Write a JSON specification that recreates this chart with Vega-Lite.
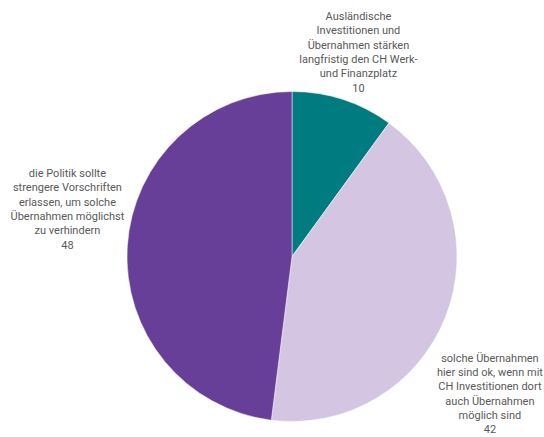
{
  "$schema": "https://vega.github.io/schema/vega-lite/v6.json",
  "autosize": {"type": "none"},
  "padding": 0,
  "width": 584,
  "height": 513,
  "background": "white",
  "data": {
    "values": [
      {"order": 1, "category": "Ausländische Investitionen und Übernahmen stärken langfristig den CH Werk- und Finanzplatz", "label": ["Ausländische", "Investitionen und", "Übernahmen stärken", "langfristig den CH Werk-", "und Finanzplatz", "10"], "value": 10},
      {"order": 2, "category": "solche Übernahmen hier sind ok, wenn mit CH Investitionen dort auch Übernahmen möglich sind", "label": ["solche Übernahmen", "hier sind ok, wenn mit", "CH Investitionen dort", "auch Übernahmen", "möglich sind", "42"], "value": 42},
      {"order": 3, "category": "die Politik sollte strengere Vorschriften erlassen, um solche Übernahmen zu verhindern", "label": ["die Politik sollte", "strengere Vorschriften", "erlassen, um solche", "Übernahmen möglichst", "zu verhindern", "48"], "value": 48}
    ]
  },
  "encoding": {
    "theta": {"field": "value", "type": "quantitative", "stack": true},
    "order": {"field": "order", "type": "ordinal"}
  },
  "layer": [
    {
      "mark": {"type": "arc", "outerRadius": 165, "stroke": "white", "strokeWidth": 0.5},
      "encoding": {
        "color": {
          "field": "category",
          "type": "nominal",
          "sort": {"field": "order"},
          "scale": {"domain": [
            "Ausländische Investitionen und Übernahmen stärken langfristig den CH Werk- und Finanzplatz",
            "solche Übernahmen hier sind ok, wenn mit CH Investitionen dort auch Übernahmen möglich sind",
            "die Politik sollte strengere Vorschriften erlassen, um solche Übernahmen zu verhindern"
          ], "range": ["#007b80", "#d4c6e2", "#673e98"]},
          "legend": null
        }
      }
    },
    {
      "mark": {"type": "text", "radius": 215, "dy": -35, "font": "Roboto", "fontSize": 11, "lineHeight": 14.3, "color": "#595959", "align": "center", "baseline": "middle"},
      "encoding": {"text": {"condition": {"test": "datum.order == 1", "field": "label"}, "value": ""}}
    },
    {
      "mark": {"type": "text", "radius": 215, "dx": -2, "dy": 23, "font": "Roboto", "fontSize": 11, "lineHeight": 14.3, "color": "#595959", "align": "center", "baseline": "middle"},
      "encoding": {"text": {"condition": {"test": "datum.order == 2", "field": "label"}, "value": ""}}
    },
    {
      "mark": {"type": "text", "radius": 215, "dx": -10, "dy": -69, "font": "Roboto", "fontSize": 11, "lineHeight": 14.3, "color": "#595959", "align": "center", "baseline": "middle"},
      "encoding": {"text": {"condition": {"test": "datum.order == 3", "field": "label"}, "value": ""}}
    }
  ]
}
